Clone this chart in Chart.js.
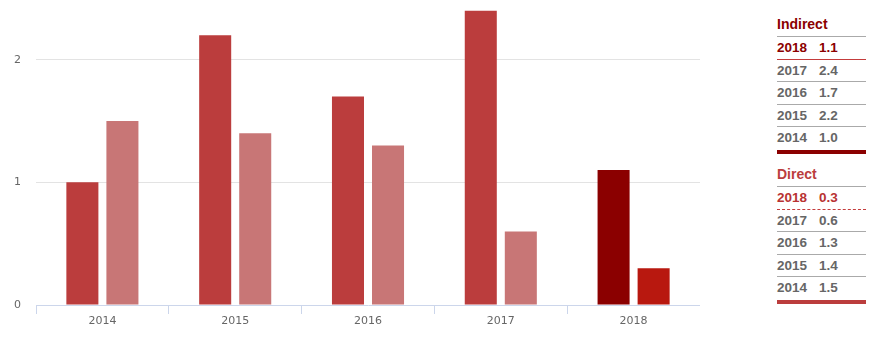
<!DOCTYPE html>
<html>
<head>
<meta charset="utf-8">
<script src="https://cdn.jsdelivr.net/npm/chart.js@4/dist/chart.umd.min.js"></script>
<style>
  html, body { margin: 0; padding: 0; background: #fff; width: 879px; height: 341px; overflow: hidden; }
  #wrap { position: absolute; left: 0; top: -11px; width: 700px; height: 352px; }
  .sec { position: absolute; left: 777px; width: 89px; font-family: "Liberation Sans", Arial, sans-serif; font-weight: bold; }
  .ttl { height: 26px; line-height: 28px; font-size: 14px; border-bottom: 1px solid #aaa; }
  .row { height: 21.6px; line-height: 22px; font-size: 13.5px; color: #666; border-bottom: 1px solid #aaa; position: relative; }
  .row span.v { position: absolute; left: 42px; }
</style>
</head>
<body>
<div id="wrap"><canvas id="c"></canvas></div>
<div class="sec" id="tblIndirect" style="top:10px"></div>
<div class="sec" id="tblDirect" style="top:160px"></div>
<script>
const categories = ["2014", "2015", "2016", "2017", "2018"];
const indirect = [1.0, 2.2, 1.7, 2.4, 1.1];
const direct = [1.5, 1.4, 1.3, 0.6, 0.3];
const yTicks = [0, 1, 2];

const hi = categories.length - 1;
const indirectColors = categories.map((c, i) => i === hi ? "#8b0000" : "#bb3d3d");
const directColors = categories.map((c, i) => i === hi ? "#b8180f" : "#c87676");

new Chart(document.getElementById("c"), {
  type: "bar",
  data: {
    labels: categories,
    datasets: [
      { label: "Indirect", data: indirect, backgroundColor: indirectColors, categoryPercentage: 0.603, barPercentage: 0.8 },
      { label: "Direct", data: direct, backgroundColor: directColors, categoryPercentage: 0.603, barPercentage: 0.8 }
    ]
  },
  options: {
    responsive: true,
    maintainAspectRatio: false,
    animation: false,
    layout: { padding: { top: -2, left: 0, right: 0, bottom: 0 } },
    plugins: { legend: { display: false }, tooltip: { enabled: false } },
    scales: {
      x: {
        grid: { display: true, drawOnChartArea: false, drawTicks: true, tickLength: 9, color: "#ccd6eb", offset: true },
        border: { display: true, color: "#ccd6eb" },
        ticks: { color: "#666", font: { family: "DejaVu Sans", size: 11 }, padding: 1 },
        afterFit: s => { s.height = 36; }
      },
      y: {
        min: 0, max: 2.4,
        afterBuildTicks: s => { s.ticks = yTicks.map(v => ({ value: v })); },
        grid: { drawTicks: false, color: ctx => ctx.tick && ctx.tick.value === 0 ? "rgba(0,0,0,0)" : "#e3e3e3" },
        border: { display: false },
        ticks: { color: "#666", font: { family: "DejaVu Sans", size: 11 }, padding: 15 },
        afterFit: s => { s.width = 36; }
      }
    }
  }
});

function buildTable(el, title, values, titleColor, hiColor, hiBorder, barColor) {
  const t = document.createElement("div");
  t.className = "ttl";
  t.style.color = titleColor;
  t.textContent = title;
  el.appendChild(t);
  const order = categories.map((c, i) => i).reverse();
  order.forEach((i, k) => {
    const r = document.createElement("div");
    r.className = "row";
    const y = document.createElement("span");
    y.textContent = categories[i];
    const v = document.createElement("span");
    v.className = "v";
    v.textContent = values[i].toFixed(1);
    r.appendChild(y); r.appendChild(v);
    if (i === hi) { r.style.color = hiColor; r.style.borderBottom = hiBorder; }
    if (k === order.length - 1) { r.style.borderBottom = "4px solid " + barColor; r.style.height = "22.8px"; }
    el.appendChild(r);
  });
}
buildTable(document.getElementById("tblIndirect"), "Indirect", indirect, "#8b0000", "#8b0000", "1px solid #c43c3c", "#8b0000");
buildTable(document.getElementById("tblDirect"), "Direct", direct, "#bb3d3d", "#b83232", "1px dashed #c43c3c", "#bb3d3d");
</script>
</body>
</html>
